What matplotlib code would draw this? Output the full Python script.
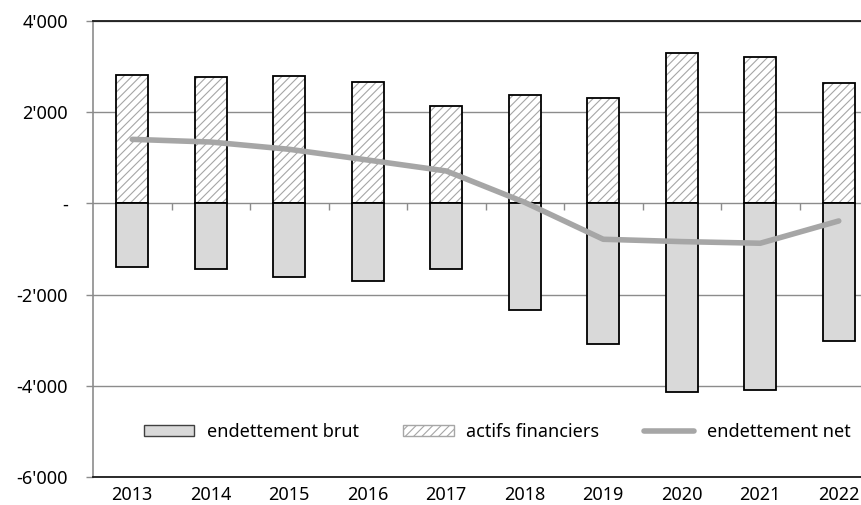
import matplotlib
matplotlib.use("Agg")
import matplotlib.pyplot as plt
import numpy as np
from matplotlib.patches import Patch
from matplotlib.lines import Line2D
from matplotlib.ticker import FuncFormatter

years = ["2013", "2014", "2015", "2016", "2017", "2018", "2019", "2020", "2021", "2022"]
actifs_financiers = [2808, 2772, 2779, 2648, 2138, 2363, 2304, 3297, 3210, 2641]
endettement_brut = [-1394, -1437, -1612, -1707, -1444, -2326, -3079, -4129, -4085, -3013]
endettement_net = [1400, 1341, 1182, 947, 707, 20, -788, -839, -875, -387]
y_ticks = [-6000, -4000, -2000, 0, 2000, 4000]

plt.rcParams['font.family'] = ['Noto Sans', 'DejaVu Sans']
plt.rcParams['font.size'] = 13
plt.rcParams['hatch.linewidth'] = 0.8

fig = plt.figure(figsize=(8.61, 5.05), dpi=100)
ax = fig.add_axes([93 / 861, (505 - 477.3) / 505, 785 / 861, (477.3 - 20.6) / 505])

x = np.arange(len(years))
w = 0.41
grey_grid = "#8c8c8c"

ax.set_ylim(-6000, 4000)
ax.set_xlim(-0.5, len(years) - 0.5)
ax.set_yticks(y_ticks)
ax.yaxis.grid(True, color=grey_grid, linewidth=1.0, zorder=0)
ax.set_axisbelow(True)

# financial assets: hatch layer + black outline
ax.bar(x, actifs_financiers, width=w, facecolor="white", edgecolor="#a6a6a6",
       hatch="////", linewidth=0, zorder=2)
ax.bar(x, actifs_financiers, width=w, fill=False, edgecolor="black",
       linewidth=1.3, zorder=3)
# gross debt
ax.bar(x, endettement_brut, width=w, facecolor="#d9d9d9", edgecolor="black",
       linewidth=1.3, zorder=3)
# net debt
ax.plot(x, endettement_net, color="#a6a6a6", linewidth=4.0,
        solid_capstyle="round", solid_joinstyle="round", zorder=4)


def fmt(v, pos):
    if v == 0:
        return "-"
    s = f"{abs(int(v)):,}".replace(",", "'")
    return ("-" if v < 0 else "") + s


ax.yaxis.set_major_formatter(FuncFormatter(fmt))
ax.tick_params(axis="y", direction="out", length=5, width=1.0, color=grey_grid,
               pad=13, labelcolor="black")
ax.set_xticks(x)
ax.set_xticklabels(years)
ax.tick_params(axis="x", length=0, pad=6, labelcolor="black")

ax.spines["right"].set_visible(False)
ax.spines["left"].set_color(grey_grid)
ax.spines["left"].set_linewidth(1.2)
ax.spines["top"].set_color("#1a1a1a")
ax.spines["top"].set_linewidth(1.3)
ax.spines["bottom"].set_color("#1a1a1a")
ax.spines["bottom"].set_linewidth(1.3)

# boundary tick marks on the zero line
sec = ax.secondary_xaxis(0, transform=ax.transData)
sec.set_xticks(np.arange(0.5, len(years) - 1, 1))
sec.set_xticklabels([])
sec.tick_params(axis="x", direction="out", length=5, width=1.0, color=grey_grid)
sec.spines["bottom"].set_visible(False)

handles = [
    Patch(facecolor="#d9d9d9", edgecolor="#404040", linewidth=1.0),
    Patch(facecolor="white", edgecolor="#a6a6a6", hatch="////", linewidth=1.0),
    Line2D([0], [0], color="#a6a6a6", linewidth=4.0, solid_capstyle="round"),
]
labels = ["endettement brut", "actifs financiers", "endettement net"]
leg = fig.legend(handles, labels, loc="center", bbox_to_anchor=(497 / 861, 1 - 432 / 505),
                 ncol=3, frameon=False, handlelength=2.8, handleheight=0.55,
                 handletextpad=0.7, columnspacing=2.45, fontsize=13)

fig.savefig("out.png", dpi=100)
